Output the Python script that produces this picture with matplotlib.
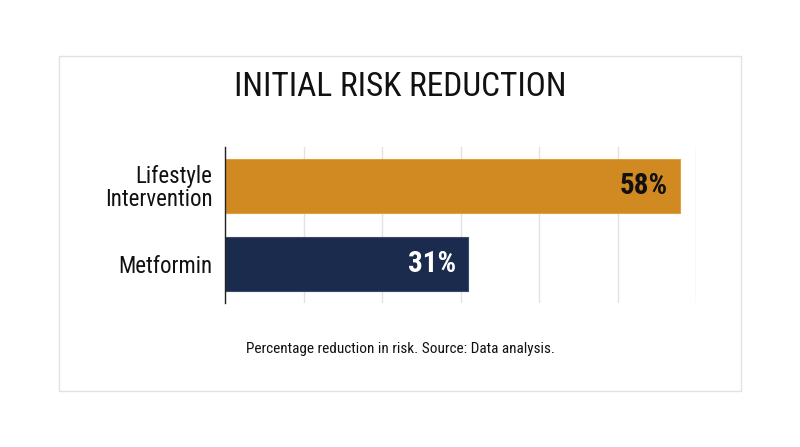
import matplotlib
matplotlib.use("Agg")
import matplotlib.pyplot as plt
from matplotlib import font_manager as fm
from matplotlib.patches import Rectangle

categories = ["Metformin", "Lifestyle\nIntervention"]
values = [31, 58]
labels = ["31%", "58%"]
bar_colors = ["#1a2b4d", "#d18a22"]
label_colors = ["white", "#111111"]
x_ticks = [0, 10, 20, 30, 40, 50, 60]
title = "INITIAL RISK REDUCTION"
caption = "Percentage reduction in risk. Source: Data analysis."

names = {f.name for f in fm.fontManager.ttflist}
family = "DejaVu Sans"
for cand in ["Liberation Sans Narrow", "Roboto Condensed", "Arial Narrow", "Roboto"]:
    if cand in names:
        family = cand
        break
plt.rcParams["font.family"] = [family, "DejaVu Sans"]

fig = plt.figure(figsize=(8, 4.47), dpi=100)
fig.patch.set_facecolor("white")

# outer box
fig.patches.append(Rectangle((58.5 / 800, 1 - 391 / 447), (741 - 58.5) / 800, (391 - 55.5) / 447,
                             transform=fig.transFigure, fill=False, edgecolor="#e2e2e2", lw=1.0))

ax = fig.add_axes([225 / 800, 1 - 303 / 447, (696 - 225) / 800, 156 / 447])
y = list(range(len(categories)))
bars = ax.barh(y, values, height=0.69, color=bar_colors, edgecolor=["#3a4a6a", "#e0a040"], lw=0.8, zorder=3)
ax.set_xlim(0, 60)
ax.set_ylim(-0.5, 1.5)
ax.set_xticks(x_ticks)
ax.set_xticklabels([])
ax.xaxis.grid(True, color="#e2e2e2", lw=1.0, zorder=0)
ax.set_axisbelow(True)
ax.set_yticks(y)
ax.set_yticklabels(categories, fontsize=16.5, color="#111111", linespacing=1.0)
ax.tick_params(axis="both", length=0, pad=9)
for s in ["top", "right", "bottom"]:
    ax.spines[s].set_visible(False)
ax.spines["left"].set_color("#222222")
ax.spines["left"].set_linewidth(1.0)
ax.spines["left"].set_zorder(4)

for yi, v, lab, c in zip(y, values, labels, label_colors):
    ax.annotate(lab, (v, yi), xytext=(-9, 0), textcoords="offset points", ha="right", va="center",
                fontsize=21, fontweight="bold", color=c, zorder=5)

fig.text(0.5, 1 - 87 / 447, title, ha="center", va="center", fontsize=24, color="#111111")
fig.text(0.5, 1 - 349 / 447, caption, ha="center", va="center", fontsize=11, color="#111111")

fig.savefig("out.png", dpi=100, facecolor="white")
